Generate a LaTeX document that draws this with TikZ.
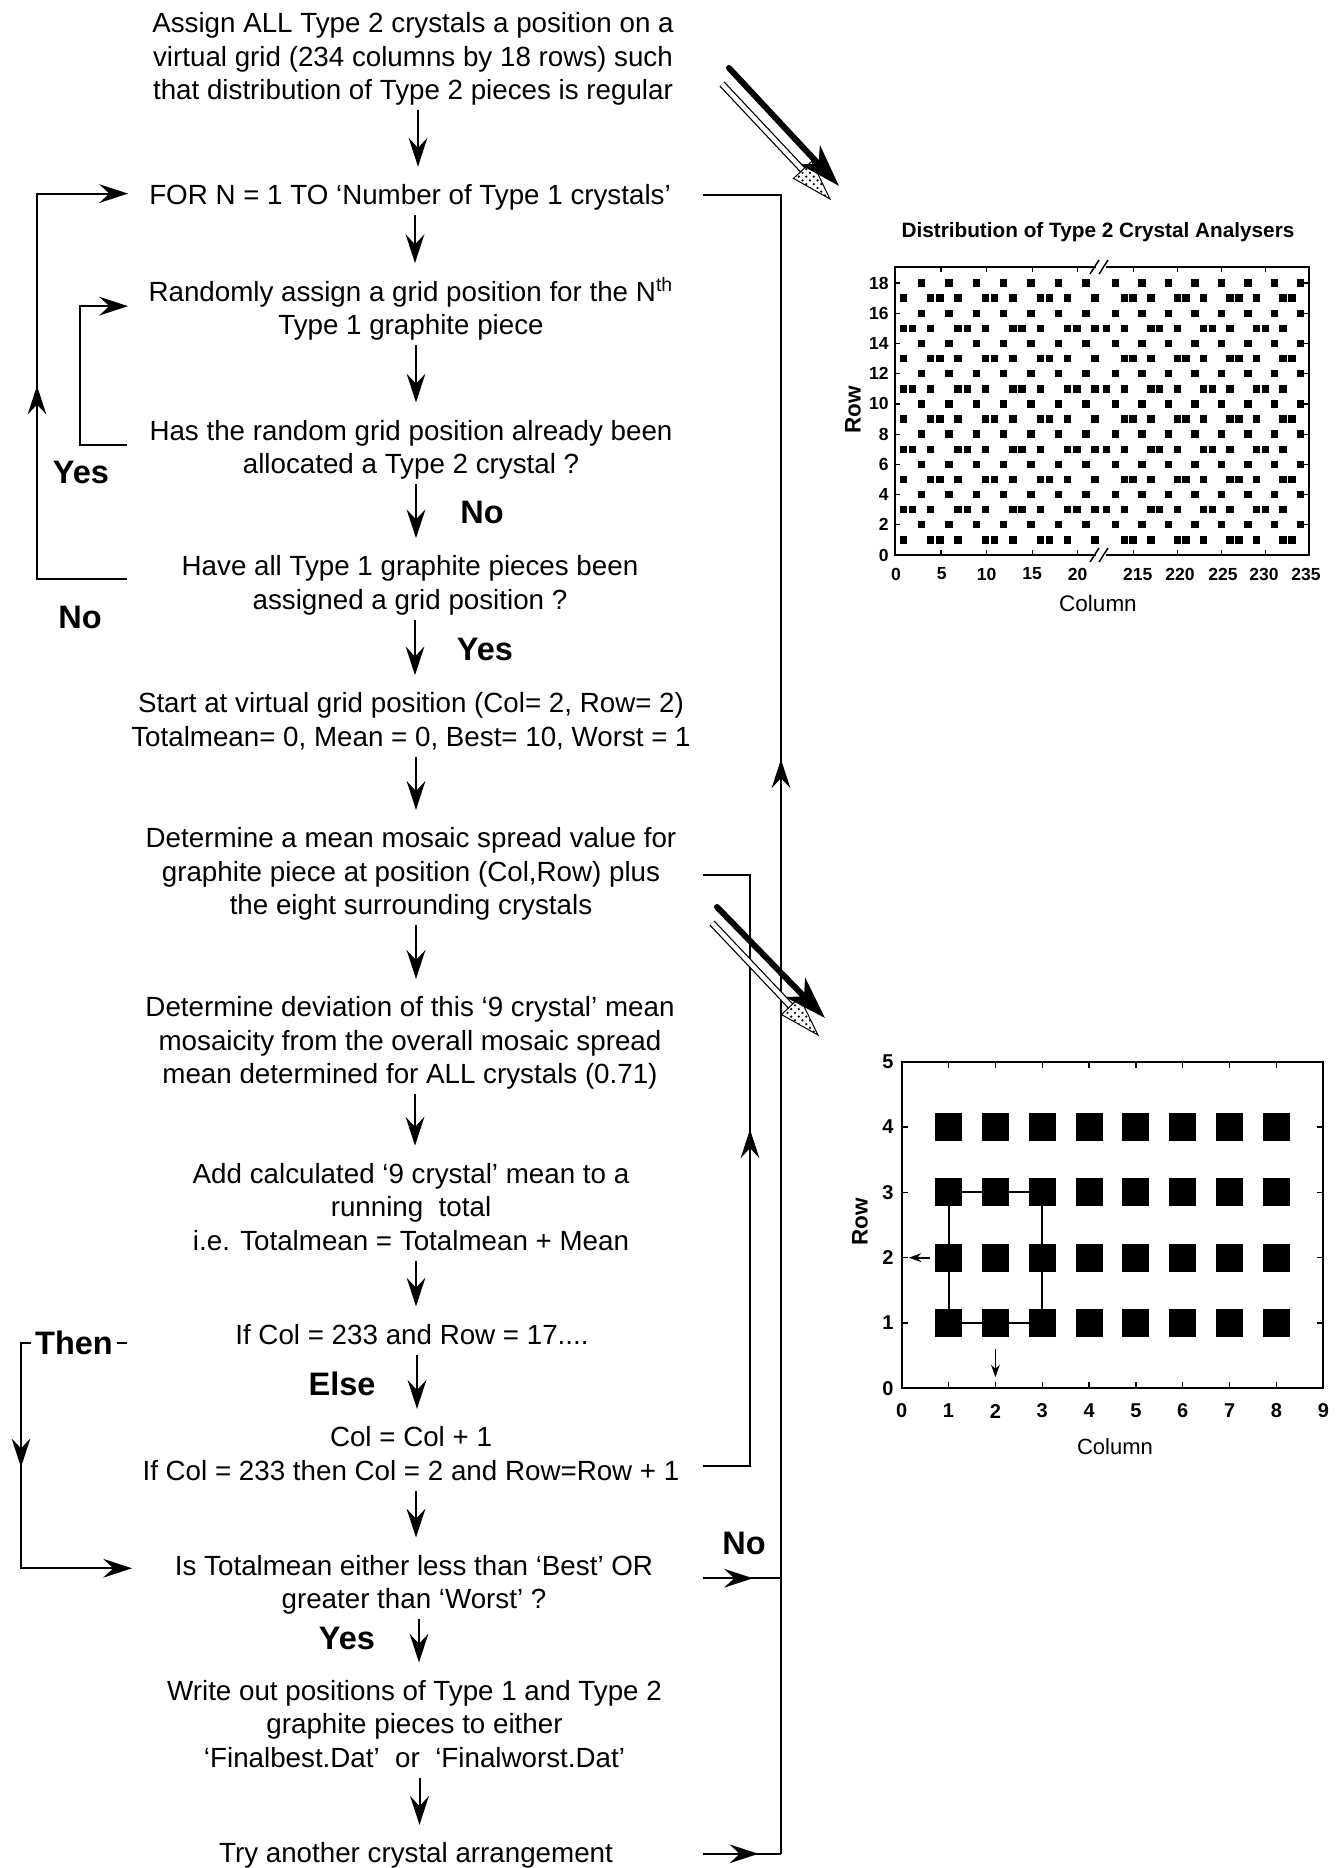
\documentclass[tikz,border=0pt]{standalone}
\usepackage{fontspec}
\setmainfont{Liberation Sans}
\usetikzlibrary{arrows.meta,calc,decorations.markings,patterns}
\newcommand{\flowarrow}[2]{\draw[downarr] let \p1=(#1.south), \p2=(#2.north) in (\x1+2pt,\y1) -- (\x1+2pt,\y2);}
\newcommand{\dotL}{\fill ({894.2+9.13*\c-3.7},{555-15.11*\r-3.7}) rectangle +(7.4,7.4);}
\newcommand{\dotR}{\fill ({1106.7+8.82*(\c-212)-3.7},{555-15.11*\r-3.7}) rectangle +(7.4,7.4);}
\begin{document}
\begin{tikzpicture}[x=0.4pt,y=-0.4pt,
  >={Stealth[length=11.5pt,width=7.5pt,inset=4pt]},
  txt/.style={anchor=north,align=center,inner sep=0pt,font=\fontsize{11.1}{13.4}\selectfont},
  lbl/.style={inner sep=0pt,font=\fontsize{13}{15}\selectfont\bfseries},
  conn/.style={line width=0.8pt},
  downarr/.style={conn,->,shorten >=5.5pt},
  midarr/.style={postaction={decorate},decoration={markings,mark=at position #1 with {\arrow{>}}}},
  ticklbl/.style={inner sep=0pt,font=\fontsize{7}{8}\selectfont\bfseries},
  axlbl/.style={inner sep=0pt,font=\fontsize{9}{10}\selectfont},
  rowlbl/.style={inner sep=0pt,rotate=90,font=\fontsize{9}{10}\selectfont\bfseries},
  frame/.style={line width=0.8pt},
]
\useasboundingbox (0,0) rectangle (1341,1868);

% ---------------- flow chart text blocks
\node[txt] (A) at (413,8.85) {\strut Assign ALL Type 2 crystals a position on a\\virtual grid (234 columns by 18 rows) such\\that distribution of Type 2 pieces is regular\strut};
\node[txt] (B) at (410,180.35) {\strut FOR N = 1 TO ‘Number of Type 1 crystals’\strut};
\node[txt] (C) at (411,276.85) {\strut Randomly assign a grid position for the N\textsuperscript{th}\\Type 1 graphite piece\strut};
\node[txt] (D) at (411,416.15) {\strut Has the random grid position already been\\allocated a Type 2 crystal ?\strut};
\node[txt] (E) at (410,551.95) {\strut Have all Type 1 graphite pieces been\\assigned a grid position ?\strut};
\node[txt] (F) at (411,688.95) {\strut Start at virtual grid position (Col= 2, Row= 2)\\Totalmean= 0, Mean = 0, Best= 10, Worst = 1\strut};
\node[txt] (G) at (411,823.55) {\strut Determine a mean mosaic spread value for\\graphite piece at position (Col,Row) plus\\the eight surrounding crystals\strut};
\node[txt] (H) at (410,992.55) {\strut Determine deviation of this ‘9 crystal’ mean\\mosaicity from the overall mosaic spread\\mean determined for ALL crystals (0.71)\strut};
\node[txt] (I) at (411,1159.35) {\strut Add calculated ‘9 crystal’ mean to a\\running~ total\\i.e. Totalmean = Totalmean + Mean\strut};
\node[txt] (J) at (412,1320.15) {\strut If Col = 233 and Row = 17....\strut};
\node[txt] (K) at (411,1422.55) {\strut Col = Col + 1\\If Col = 233 then Col = 2 and Row=Row + 1\strut};
\node[txt] (L) at (414,1551.25) {\strut Is Totalmean either less than ‘Best’ OR\\greater than ‘Worst’ ?\strut};
\node[txt] (M) at (414.5,1676.25) {\strut Write out positions of Type 1 and Type 2\\graphite pieces to either\\‘Finalbest.Dat’~ or~ ‘Finalworst.Dat’\strut};
\node[txt] (N) at (416,1838.55) {\strut Try another crystal arrangement\strut};

% ---------------- straight down arrows
\flowarrow{A}{B}
\flowarrow{B}{C}
\flowarrow{C}{D}
\flowarrow{D}{E}
\flowarrow{E}{F}
\flowarrow{F}{G}
\flowarrow{G}{H}
\flowarrow{H}{I}
\flowarrow{I}{J}
\flowarrow{J}{K}
\flowarrow{K}{L}
\flowarrow{L}{M}
\flowarrow{M}{N}

% ---------------- loop guide coordinates
\coordinate (LS) at (127,0);
\coordinate (LT) at (128,0);
\coordinate (LL) at (37,0);
\coordinate (LI) at (80,0);
\coordinate (LO) at (21,0);
\coordinate (LH) at (132,0);
\coordinate (RS) at (703,0);
\coordinate (RO) at (781,0);
\coordinate (RI) at (750,0);

% left outer loop (No)
\coordinate (e1) at ($(E.west)+(0,-7)$);
\coordinate (b1) at ($(B.west)+(0,-4)$);
\draw[conn,->,midarr=0.5] (e1 -| LS) -- (e1 -| LL) -- (b1 -| LL) -- (b1 -| LT);
% left inner loop (Yes)
\coordinate (d1) at ($(D.west)+(0,-5)$);
\coordinate (c1) at ($(C.west)+(0,-5)$);
\draw[conn,->] (d1 -| LS) -- (d1 -| LI) -- (c1 -| LI) -- (c1 -| LT);
% Then loop
\coordinate (j1) at ($(J.west)+(0,6)$);
\coordinate (l1) at ($(L.west)+(0,-17)$);
\draw[conn,->,midarr=0.52] (j1 -| LS) -- (j1 -| LO) -- (l1 -| LO) -- (l1 -| LH);

% right outer loop
\coordinate (n1) at ($(N.east)+(0,-2)$);
\coordinate (l2) at ($(L.east)+(0,-7)$);
\coordinate (b2) at ($(B.east)+(0,-3)$);
\draw[conn,midarr=0.71] (n1 -| RS) -- (n1 -| RO);
\draw[conn,midarr=0.64] (l2 -| RS) -- (l2 -| RO);
\draw[conn,midarr=0.63] (n1 -| RO) -- (b2 -| RO) -- (b2 -| RS);
% right inner loop
\coordinate (k1) at ($(K.east)+(0,9)$);
\coordinate (g1) at ($(G.east)+(0,1)$);
\draw[conn,midarr=0.56] (k1 -| RS) -- (k1 -| RI) -- (g1 -| RI) -- (g1 -| RS);

% ---------------- bold labels
\node[lbl] (noA) at (482,512) {No};
\node[lbl] (yesA) at (485,649) {Yes};
\node[lbl] (yesL) at (81,472) {Yes};
\node[lbl] (noL) at (80,617) {No};
\node[lbl] (elseL) at (342,1384) {Else};
\node[lbl] (noR) at (744,1543) {No};
\node[lbl] (yesB) at (347,1638) {Yes};
\node[lbl,fill=white,inner xsep=1.5pt] (thenL) at (74,1343) {Then};

% ---------------- diagonal pointer arrows
\coordinate (p1s) at (729,68); \coordinate (p1t) at (839,186);
\draw[line width=2.4pt,line cap=round,-{Stealth[length=17pt,width=11pt,inset=5pt]}] (p1s) -- (p1t);
\coordinate (q1s) at (722,84); \coordinate (q1t) at (830,199);
\coordinate (q1b) at ($(q1t)!16pt!(q1s)$);
\draw[line width=0.5pt,double,double distance=1.8pt] (q1s) -- (q1b);
\draw[line width=0.4pt,pattern=crosshatch dots] ($(q1b)!5pt!90:(q1t)$) -- (q1t) -- ($(q1b)!5pt!-90:(q1t)$) -- cycle;

\coordinate (p2s) at (717,907); \coordinate (p2t) at (825,1018);
\draw[line width=2.4pt,line cap=round,-{Stealth[length=17pt,width=11pt,inset=5pt]}] (p2s) -- (p2t);
\coordinate (q2s) at (712,923); \coordinate (q2t) at (818,1035);
\coordinate (q2b) at ($(q2t)!16pt!(q2s)$);
\draw[line width=0.5pt,double,double distance=1.8pt] (q2s) -- (q2b);
\draw[line width=0.4pt,pattern=crosshatch dots] ($(q2b)!5pt!90:(q2t)$) -- (q2t) -- ($(q2b)!5pt!-90:(q2t)$) -- cycle;

% ---------------- top plot: distribution of type 2 crystals
\node[inner sep=0pt,font=\fontsize{8.3}{10}\selectfont\bfseries] (title1) at (1098,232) {Distribution of Type 2 Crystal Analysers};
\draw[frame] (895,267) rectangle (1309,555);
\foreach \r in {2,4,...,18}{
  \foreach \c in {3,6,...,21}{\dotL}
  \foreach \c in {213,216,...,234}{\dotR}
}
\foreach \r in {1,5,9,13,17}{
  \foreach \c in {1,4,5,7,10,11,13,16,17,19,22}{\dotL}
  \foreach \c in {214,215,217,220,221,223,226,227,229,232,233}{\dotR}
}
\foreach \r in {3,7,11,15}{
  \foreach \c in {1,2,4,7,8,10,13,14,16,19,20,22}{\dotL}
  \foreach \c in {212,214,217,218,220,223,224,226,229,230,232}{\dotR}
}
\foreach \r in {0,2,...,18}{
  \draw[line width=0.5pt] (895,{555-15.11*\r}) -- +(5,0);
  \draw[line width=0.5pt] (1309,{555-15.11*\r}) -- +(-5,0);
  \node[ticklbl,anchor=east] (ty\r) at (889,{555-15.11*\r}) {\r};
}
\foreach \c/\xp in {0/896,5/941.7,10/986.7,15/1032,20/1077.7,215/1137.7,220/1180,225/1223,230/1264,235/1306}{
  \node[ticklbl] (tx\c) at (\xp,574) {\c};
}
\foreach \xp in {940.9,986.5,1032.2,1077.8,1133.2,1177.3,1221.4,1265.5}{
  \draw[line width=0.5pt] (\xp,555) -- +(0,-5);
  \draw[line width=0.5pt] (\xp,267) -- +(0,5);
}
% axis breaks
\fill[white] (1096,262) rectangle (1106,272);
\fill[white] (1096,550) rectangle (1106,560);
\draw[line width=0.6pt] (1090,274) -- (1099,260) (1099,274) -- (1108,260);
\draw[line width=0.6pt] (1090,562) -- (1099,548) (1099,562) -- (1108,548);
\node[axlbl] (col1) at (1098,603) {Column};
\node[rowlbl] (row1) at (853,410) {Row};

% ---------------- bottom plot: 3x3 neighbourhood
\draw[frame] (901.7,1061.7) rectangle (1323.3,1388.3);
\foreach \u in {1,...,8}{
  \foreach \v in {1,...,4}{
    \fill ({901.7+46.85*\u-13.5},{1388.3-65.32*\v-14}) rectangle +(27,28);
  }
}
\draw[line width=0.8pt] (948.55,1192.34) rectangle (1042.25,1322.98);
\draw[line width=0.7pt,-{Stealth[length=5pt,width=3.5pt]}] (929.8,1257.66) -- (908.7,1257.66);
\draw[line width=0.7pt,-{Stealth[length=5pt,width=3.5pt]}] (995.4,1349.1) -- (995.4,1377.2);
\foreach \u in {1,...,8}{
  \draw[line width=0.5pt] ({901.7+46.85*\u},1388.3) -- +(0,-6);
  \draw[line width=0.5pt] ({901.7+46.85*\u},1061.7) -- +(0,6);
}
\foreach \v in {1,...,4}{
  \draw[line width=0.5pt] (901.7,{1388.3-65.32*\v}) -- +(6,0);
  \draw[line width=0.5pt] (1323.3,{1388.3-65.32*\v}) -- +(-6,0);
}
\foreach \u in {0,...,9}{
  \node[ticklbl,font=\fontsize{8}{9}\selectfont\bfseries] (bx\u) at ({901.7+46.85*\u},1411) {\u};
}
\foreach \v in {0,...,5}{
  \node[ticklbl,font=\fontsize{8}{9}\selectfont\bfseries,anchor=east] (by\v) at (894,{1388.3-65.32*\v}) {\v};
}
\node[axlbl,font=\fontsize{8.8}{10}\selectfont] (col2) at (1115,1447) {Column};
\node[rowlbl] (row2) at (860,1222) {Row};
\end{tikzpicture}
\end{document}
